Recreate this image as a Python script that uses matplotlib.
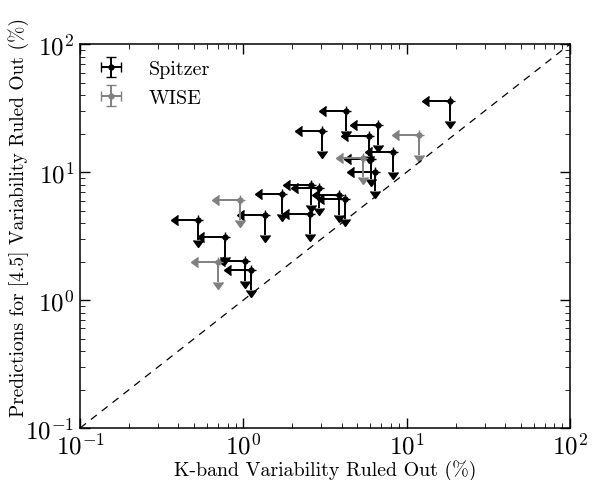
import numpy as np
import matplotlib
matplotlib.use('Agg')
from matplotlib import pyplot as plt

plt.rcParams['font.family'] = ['cmr10']
plt.rcParams['mathtext.fontset'] = 'cm'
plt.rcParams['axes.formatter.use_mathtext'] = True
plt.rcParams['axes.unicode_minus'] = False

# Spitzer targets: K-band limit vs predicted [4.5] limit (%)
spitzer_k = np.array([18.4, 4.27, 3.04, 6.67, 5.87, 8.24, 6.07, 6.39, 1.73, 2.58,
                      2.90, 2.55, 3.88, 4.17, 1.35, 0.527, 0.768, 1.03, 1.12])
spitzer_pred = np.array([35.7, 30.1, 20.8, 23.4, 19.2, 14.3, 12.7, 10.1, 6.73, 7.87,
                         7.50, 4.70, 6.58, 6.15, 4.64, 4.20, 3.09, 2.03, 1.72])

# WISE targets
wise_k = np.array([11.9, 5.43, 0.949, 0.699])
wise_pred = np.array([19.4, 13.0, 6.08, 1.98])

fig = plt.figure(figsize=(5.93, 4.81), dpi=100)
ax = fig.add_axes([0.135, 0.108, 0.826, 0.798])

for xs, ys, col, lab in [(spitzer_k, spitzer_pred, 'black', 'Spitzer'),
                         (wise_k, wise_pred, 'grey', 'WISE')]:
    ax.errorbar(xs, ys, xerr=xs * 0.25, yerr=ys * 0.3,
                xuplims=True, uplims=True, fmt='o', ms=3.5,
                color=col, ecolor=col, elinewidth=1.4, capsize=3.3, label=lab)

lim = [0.1, 100]
ax.plot(lim, lim, color='k', ls='--', dashes=(6, 5), lw=0.9)

ax.set_xscale('log')
ax.set_yscale('log')
ax.set_xlim(lim)
ax.set_ylim(lim)
ax.tick_params(which='both', direction='in', top=True, right=True, labelsize=18)
ax.tick_params(which='major', length=7, width=1)
ax.tick_params(which='minor', length=3.5)
ax.tick_params(axis='x', pad=3)
ax.tick_params(axis='y', pad=4)
for s in ax.spines.values():
    s.set_linewidth(1.1)

ax.set_xlabel('K-band Variability Ruled Out (%)', fontsize=14.3, labelpad=1)
ax.set_ylabel('Predictions for [4.5] Variability Ruled Out (%)', fontsize=14)
ax.yaxis.set_label_coords(-0.104, 0.55)

ax.legend(loc='upper left', frameon=False, numpoints=1, fontsize=14.5,
          borderaxespad=0.4, handlelength=1.5, handletextpad=1.1)

plt.savefig('out.png')
